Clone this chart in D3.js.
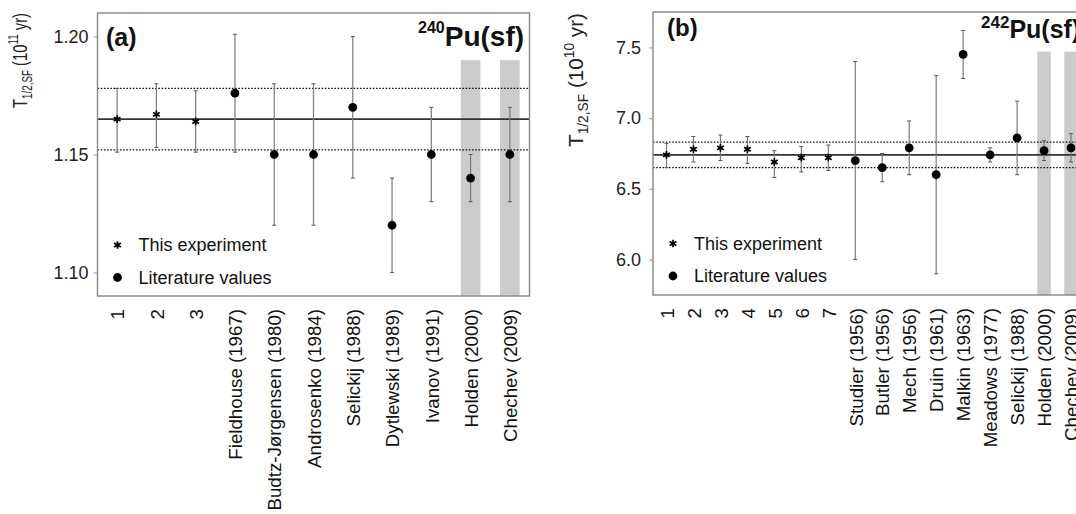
<!DOCTYPE html>
<html>
<head>
<meta charset="utf-8">
<script src="https://cdn.jsdelivr.net/npm/d3@7"></script>
<style>
  body { margin: 0; background: #fff; }
  svg { display: block; font-family: "Liberation Sans", Arial, Helvetica, sans-serif; }
</style>
</head>
<body>
<svg id="fig" width="1076" height="514"></svg>
<script>
// ---------- Pu-240 spontaneous-fission half-life (10^11 yr) ----------
const labelsA = ["1", "2", "3", "Fieldhouse (1967)", "Budtz-Jørgensen (1980)", "Androsenko (1984)",
  "Selickij (1988)", "Dytlewski (1989)", "Ivanov (1991)", "Holden (2000)", "Chechev (2009)"];
const kindA = ["exp", "exp", "exp", "lit", "lit", "lit", "lit", "lit", "lit", "lit", "lit"];
const valuesA = [1.165, 1.167, 1.164, 1.176, 1.150, 1.150, 1.170, 1.120, 1.150, 1.140, 1.150];
const lowerA  = [1.151, 1.153, 1.151, 1.151, 1.120, 1.120, 1.140, 1.100, 1.130, 1.130, 1.130];
const upperA  = [1.178, 1.180, 1.177, 1.201, 1.180, 1.180, 1.200, 1.140, 1.170, 1.150, 1.170];
const shadedA = ["Holden (2000)", "Chechev (2009)"];
const shadeTopA = 1.19;
const meanA = 1.165;
const meanRangeA = [1.152, 1.178];
const yDomainA = [1.09, 1.21];
const yTicksA = [1.10, 1.15, 1.20];

// ---------- Pu-242 spontaneous-fission half-life (10^10 yr) ----------
const labelsB = ["1", "2", "3", "4", "5", "6", "7", "Studier (1956)", "Butler (1956)", "Mech (1956)",
  "Druin (1961)", "Malkin (1963)", "Meadows (1977)", "Selickij (1988)", "Holden (2000)", "Chechev (2009)"];
const kindB = ["exp", "exp", "exp", "exp", "exp", "exp", "exp", "lit", "lit", "lit", "lit", "lit", "lit", "lit", "lit", "lit"];
const valuesB = [6.74, 6.78, 6.79, 6.78, 6.69, 6.72, 6.72, 6.70, 6.65, 6.79, 6.60, 7.45, 6.74, 6.86, 6.77, 6.79];
const lowerB  = [6.65, 6.69, 6.70, 6.68, 6.58, 6.62, 6.63, 6.00, 6.55, 6.60, 5.90, 7.28, 6.69, 6.60, 6.70, 6.69];
const upperB  = [6.82, 6.87, 6.88, 6.87, 6.77, 6.80, 6.81, 7.40, 6.75, 6.98, 7.30, 7.62, 6.79, 7.12, 6.84, 6.89];
const shadedB = ["Holden (2000)", "Chechev (2009)"];
const shadeTopB = 7.47;
const meanB = 6.74;
const meanRangeB = [6.65, 6.83];
const yDomainB = [5.75, 7.75];
const yTicksB = [6.0, 6.5, 7.0, 7.5];

const legendEntries = [
  { kind: "exp", text: "This experiment" },
  { kind: "lit", text: "Literature values" }
];

const svg = d3.select("#fig");

// six-armed asterisk used for this work's measurements
const asterisk = {
  draw(ctx, size) {
    const r = Math.sqrt(size) / 2;
    for (let k = 0; k < 3; k++) {
      const a = Math.PI / 2 + k * Math.PI / 3;
      ctx.moveTo(r * Math.cos(a), r * Math.sin(a));
      ctx.lineTo(-r * Math.cos(a), -r * Math.sin(a));
    }
  }
};

function drawMarker(sel, kind) {
  if (kind === "exp") {
    sel.append("path")
      .attr("d", d3.symbol(asterisk, 60)())
      .attr("fill", "none")
      .attr("stroke", "#000")
      .attr("stroke-width", 1.7);
  } else {
    sel.append("circle").attr("r", 4.4).attr("fill", "#000");
  }
}

function drawPanel(p) {
  const g = svg.append("g");
  const x = d3.scalePoint().domain(p.labels).range([p.left, p.right]).padding(0.5);
  const y = d3.scaleLinear().domain(p.yDomain).range([p.bottom, p.top]);
  const step = x.step();

  // shaded columns for the evaluated values
  g.selectAll("rect.shade").data(p.shaded).join("rect")
    .attr("class", "shade")
    .attr("x", d => x(d) - step / 4)
    .attr("width", step / 2)
    .attr("y", y(p.shadeTop))
    .attr("height", p.bottom - y(p.shadeTop))
    .attr("fill", "#cbcbcb");

  // weighted mean and its uncertainty band
  g.selectAll("line.range").data(p.meanRange).join("line")
    .attr("class", "range")
    .attr("x1", p.left).attr("x2", p.right)
    .attr("y1", d => y(d)).attr("y2", d => y(d))
    .attr("stroke", "#111").attr("stroke-width", 1.2)
    .attr("stroke-dasharray", "1.6,1.6");
  g.append("line")
    .attr("x1", p.left).attr("x2", p.right)
    .attr("y1", y(p.mean)).attr("y2", y(p.mean))
    .attr("stroke", "#333").attr("stroke-width", 1.6);

  const rows = p.labels.map((lab, i) => ({
    lab, kind: p.kinds[i], v: p.values[i], lo: p.lower[i], hi: p.upper[i]
  }));

  // error bars with small caps
  const eb = g.selectAll("g.eb").data(rows).join("g").attr("class", "eb");
  eb.append("line")
    .attr("x1", d => x(d.lab)).attr("x2", d => x(d.lab))
    .attr("y1", d => y(d.lo)).attr("y2", d => y(d.hi))
    .attr("stroke", "#7a7a7a").attr("stroke-width", 1.2);
  ["lo", "hi"].forEach(k => {
    eb.append("line")
      .attr("x1", d => x(d.lab) - 2).attr("x2", d => x(d.lab) + 2)
      .attr("y1", d => y(d[k])).attr("y2", d => y(d[k]))
      .attr("stroke", "#555").attr("stroke-width", 1);
  });

  // data markers
  g.selectAll("g.pt").data(rows).join("g")
    .attr("class", "pt")
    .attr("transform", d => `translate(${x(d.lab)},${y(d.v)})`)
    .each(function (d) { drawMarker(d3.select(this), d.kind); });

  // frame
  g.append("rect")
    .attr("x", p.left).attr("y", p.top)
    .attr("width", p.right - p.left).attr("height", p.bottom - p.top)
    .attr("fill", "none").attr("stroke", "#8c8c8c").attr("stroke-width", 1.5);

  // y axis
  const ya = g.append("g")
    .attr("transform", `translate(${p.left},0)`)
    .call(d3.axisLeft(y).tickValues(p.yTicks).tickFormat(d3.format(p.yFormat))
      .tickSize(4).tickPadding(p.tickPad));
  ya.select(".domain").remove();
  ya.selectAll(".tick line").attr("stroke", "#999");
  ya.selectAll(".tick text")
    .attr("font-size", 18).attr("fill", "#222")
    .attr("font-family", "Liberation Sans, Arial, sans-serif");

  // x axis: category names, perpendicular to the axis
  const xa = g.append("g")
    .attr("transform", `translate(0,${p.bottom})`)
    .call(d3.axisBottom(x).tickSize(0));
  xa.select(".domain").remove();
  xa.selectAll(".tick text")
    .attr("transform", "rotate(-90)")
    .attr("x", -13).attr("y", 0).attr("dy", "0.36em")
    .style("text-anchor", "end")
    .attr("font-size", 18.7).attr("fill", "#111")
    .attr("font-family", "Liberation Sans, Arial, sans-serif");

  // y-axis title T_{1/2,SF} (10^n yr)
  const yt = g.append("text")
    .attr("font-size", 21).attr("fill", "#222");
  yt.append("tspan").text("T");
  yt.append("tspan").attr("font-size", 14).attr("dy", 5).text("1/2,SF");
  yt.append("tspan").attr("dy", -5).text(" (10");
  yt.append("tspan").attr("font-size", 14).attr("dy", -9).text(p.exponent);
  yt.append("tspan").attr("dy", 9).text(" yr)");
  const natural = yt.node().getComputedTextLength();
  yt.attr("transform",
    `translate(${p.ytX},${p.ytY}) rotate(-90) scale(${p.ytLen / natural},1)`);

  // panel tag
  g.append("text")
    .attr("x", p.tagX).attr("y", p.tagY)
    .attr("font-size", p.tagSize).attr("font-weight", "bold").attr("fill", "#111")
    .text(p.tag);

  // nuclide heading
  const nt = g.append("text")
    .attr("x", p.nucX).attr("y", p.nucY)
    .attr("font-weight", "bold").attr("fill", "#111");
  nt.append("tspan").attr("font-size", p.massSize).attr("dy", p.massRise).text(p.mass);
  nt.append("tspan").attr("font-size", p.nucSize).attr("dy", -p.massRise).text("Pu(sf)");

  // legend
  const lg = g.selectAll("g.lg").data(legendEntries).join("g")
    .attr("class", "lg")
    .attr("transform", (d, i) => `translate(${p.left + 20},${p.legendY + i * 32.5})`);
  lg.each(function (d) { drawMarker(d3.select(this), d.kind); });
  lg.append("text")
    .attr("x", 21).attr("dy", "0.35em")
    .attr("font-size", 18).attr("fill", "#111")
    .text(d => d.text);
}

drawPanel({
  labels: labelsA, kinds: kindA, values: valuesA, lower: lowerA, upper: upperA,
  shaded: shadedA, shadeTop: shadeTopA, mean: meanA, meanRange: meanRangeA,
  yDomain: yDomainA, yTicks: yTicksA, yFormat: ".2f", tickPad: 5,
  left: 97.5, right: 529.5, top: 13, bottom: 296,
  exponent: "11", ytX: 27, ytY: 108, ytLen: 95,
  tag: "(a)", tagX: 106, tagY: 46, tagSize: 25,
  mass: "240", nucX: 418, nucY: 46, massSize: 16, massRise: -13, nucSize: 28,
  legendY: 245
});

drawPanel({
  labels: labelsB, kinds: kindB, values: valuesB, lower: lowerB, upper: upperB,
  shaded: shadedB, shadeTop: shadeTopB, mean: meanB, meanRange: meanRangeB,
  yDomain: yDomainB, yTicks: yTicksB, yFormat: ".1f", tickPad: 8,
  left: 653, right: 1084.5, top: 12, bottom: 295,
  exponent: "10", ytX: 583, ytY: 147, ytLen: 134,
  tag: "(b)", tagX: 667, tagY: 36, tagSize: 24,
  mass: "242", nucX: 981, nucY: 38, massSize: 17, massRise: -10, nucSize: 25,
  legendY: 243.5
});
</script>
</body>
</html>
